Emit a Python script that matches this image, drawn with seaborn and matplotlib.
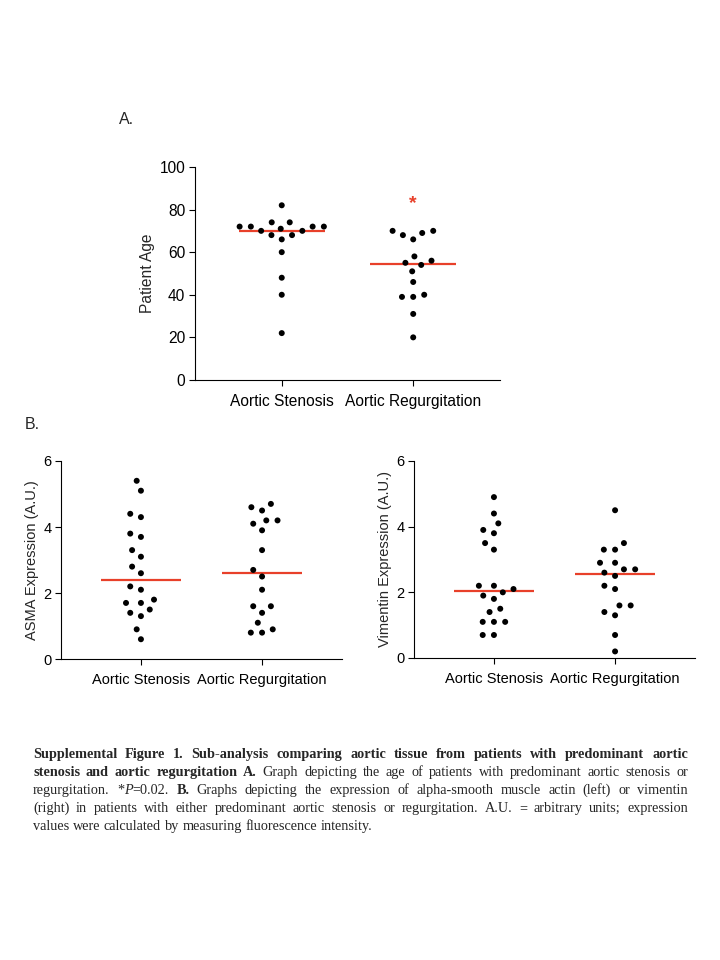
import numpy as np
import pandas as pd
import matplotlib
matplotlib.use("Agg")
import matplotlib.pyplot as plt
import seaborn as sns

# values
groups = ["Aortic Stenosis", "Aortic Regurgitation"]

age_stenosis = [82, 74, 74, 72, 72, 72, 72, 71, 70, 70, 68, 68, 66, 60, 48, 40, 22]
age_regurg = [70, 70, 69, 68, 66, 58, 56, 55, 54, 51, 46, 40, 39, 39, 31, 20]

asma_stenosis = [5.4, 5.1, 4.4, 4.3, 3.8, 3.7, 3.3, 3.1, 2.8, 2.6, 2.2, 2.1,
                 1.8, 1.7, 1.7, 1.5, 1.4, 1.3, 0.9, 0.6]
asma_regurg = [4.7, 4.6, 4.5, 4.2, 4.2, 4.1, 3.9, 3.3, 2.7, 2.5, 2.1, 1.6,
               1.6, 1.4, 1.1, 0.9, 0.8, 0.8]

vim_stenosis = [4.9, 4.4, 4.1, 3.9, 3.8, 3.5, 3.3, 2.2, 2.2, 2.1, 2.0, 1.9,
                1.8, 1.5, 1.4, 1.1, 1.1, 1.1, 0.7, 0.7]
vim_regurg = [4.5, 3.5, 3.3, 3.3, 2.9, 2.9, 2.7, 2.7, 2.6, 2.5, 2.2, 2.1,
              1.6, 1.6, 1.4, 1.3, 0.7, 0.2]

age_ticks = [0, 20, 40, 60, 80, 100]
expr_ticks = [0, 2, 4, 6]

RED = "#e8402a"
SANS = ["Liberation Sans", "DejaVu Sans"]
SERIF = ["Liberation Serif", "DejaVu Serif"]

sns.set_style("ticks")
plt.rcParams["font.family"] = SANS
plt.rcParams["axes.linewidth"] = 0.8

fig = plt.figure(figsize=(7.2, 9.6), dpi=100)


def make_df(a, b):
    return pd.DataFrame({
        "group": [groups[0]] * len(a) + [groups[1]] * len(b),
        "value": list(a) + list(b),
    })


def dot_panel(rect, a, b, ylabel, yticks, fs, line_len):
    ax = fig.add_axes(rect)
    df = make_df(a, b)
    sns.pointplot(data=df, x="group", y="value", order=groups, estimator="median",
                  errorbar=None, color=RED, marker="_", markersize=line_len,
                  markeredgewidth=1.6, linestyle="none", ax=ax, zorder=2)
    # linewidth only widens the swarm spacing, the edge itself is hidden
    sns.swarmplot(data=df, x="group", y="value", order=groups, color="black",
                  size=4.3, linewidth=3.4, ax=ax, zorder=3)
    for c in ax.collections:
        c.set_edgecolor("none")
    ax.set_xlim(-0.66, 1.66)
    ax.set_ylim(yticks[0], yticks[-1])
    ax.set_yticks(yticks)
    ax.set_xlabel("")
    ax.set_ylabel(ylabel, fontsize=fs, labelpad=3)
    ax.tick_params(axis="both", length=4, width=0.8, colors="black",
                   labelsize=fs, pad=3)
    ax.tick_params(axis="x", pad=6)
    sns.despine(ax=ax)
    for s in ("left", "bottom"):
        ax.spines[s].set_color("black")
    return ax


axA = dot_panel([0.2708, 0.6042, 0.4236, 0.2219], age_stenosis, age_regurg,
                "Patient Age", age_ticks, 11.2, 62)
axA.text(1, 83, "*", color=RED, fontsize=14, ha="center", va="center",
         fontweight="bold")

dot_panel([0.0847, 0.3135, 0.3903, 0.2063], asma_stenosis, asma_regurg,
          "ASMA Expression (A.U.)", expr_ticks, 10.5, 58)
dot_panel([0.575, 0.3146, 0.3903, 0.2052], vim_stenosis, vim_regurg,
          "Vimentin Expression (A.U.)", expr_ticks, 10.5, 58)

fig.text(127 / 720, 1 - 119 / 960, "A.", fontsize=11.5, ha="center", va="center")
fig.text(32 / 720, 1 - 425 / 960, "B.", fontsize=11.5, ha="center", va="center")

# caption, justified like the source page
caption = [
    [("Supplemental Figure 1. Sub-analysis comparing aortic tissue from patients with predominant aortic", "bold")],
    [("stenosis and aortic regurgitation A. ", "bold"),
     ("Graph depicting the age of patients with predominant aortic stenosis or", "normal")],
    [("regurgitation. *", "normal"), ("P", "italic"), ("=0.02. ", "normal"), ("B.", "bold"),
     (" Graphs depicting the expression of alpha-smooth muscle actin (left) or vimentin", "normal")],
    [("(right) in patients with either predominant aortic stenosis or regurgitation. A.U. = arbitrary units; expression", "normal")],
    [("values were calculated by measuring fluorescence intensity.", "normal")],
]
cap_fs = 10.3
x0, x1 = 33, 688
baselines = [758, 776, 794, 812, 830]


def split_words(line):
    words = [[]]
    for text, style in line:
        for k, part in enumerate(text.split(" ")):
            if k > 0:
                words.append([])
            if part:
                words[-1].append((part, style))
    return [w for w in words if w]


renderer = fig.canvas.get_renderer()
for li, line in enumerate(caption):
    words = split_words(line)
    items = []
    for w in words:
        segs = []
        for part, style in w:
            t = fig.text(0, 0, part, fontsize=cap_fs, family=SERIF,
                         fontweight="bold" if style == "bold" else "normal",
                         fontstyle="italic" if style == "italic" else "normal",
                         va="baseline", ha="left")
            segs.append((t, t.get_window_extent(renderer).width))
        items.append(segs)
    widths = [sum(s[1] for s in segs) for segs in items]
    last = li == len(caption) - 1
    space = cap_fs * 100 / 72 * 0.25
    gap = space if last else max((x1 - x0 - sum(widths)) / (len(items) - 1), 1.5)
    x = x0
    for segs in items:
        for t, wd in segs:
            t.set_position((x / 720, 1 - baselines[li] / 960))
            x += wd
        x += gap

fig.savefig("out.png", dpi=100)
